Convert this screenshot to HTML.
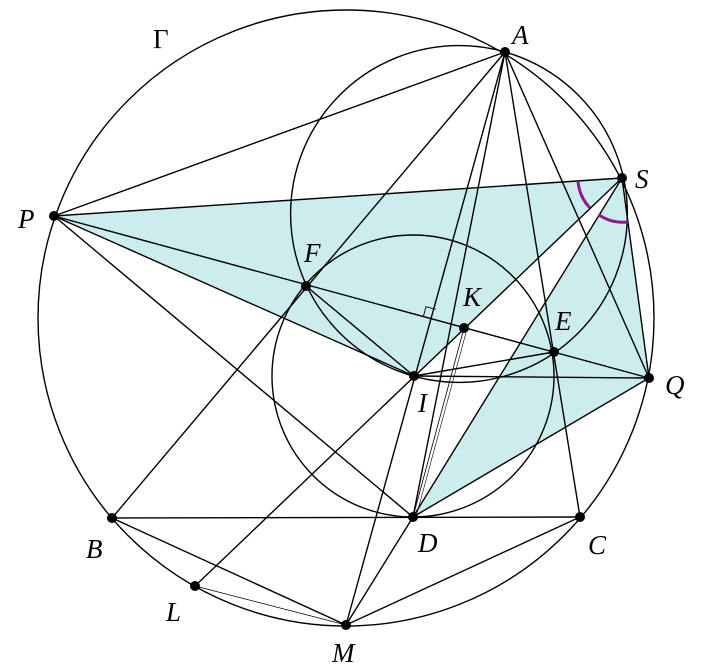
<!DOCTYPE html>
<html><head><style>html,body{margin:0;padding:0;background:#fff}svg{display:block}</style></head>
<body>
<svg width="706" height="669" viewBox="0 0 706 669" xmlns="http://www.w3.org/2000/svg">
<g fill="#cdeced" stroke="none">
<polygon points="54,216 622,178 414,376"/>
<polygon points="622,178 649,378 413,517"/>
</g>
<g fill="none" stroke="#000" stroke-width="1.4">
<circle cx="346" cy="318" r="308"/>
<circle cx="459" cy="214" r="168.4"/>
<circle cx="413" cy="376" r="141"/>
<line x1="54" y1="216" x2="505" y2="52"/>
<line x1="54" y1="216" x2="622" y2="178"/>
<line x1="54" y1="216" x2="649" y2="378"/>
<line x1="54" y1="216" x2="414" y2="376"/>
<line x1="54" y1="216" x2="413" y2="517"/>
<line x1="505" y1="52" x2="112" y2="518"/>
<line x1="505" y1="52" x2="346" y2="625"/>
<line x1="505" y1="52" x2="413" y2="517"/>
<line x1="505" y1="52" x2="580" y2="517"/>
<line x1="505" y1="52" x2="649" y2="378"/>
<line x1="622" y1="178" x2="195" y2="586"/>
<line x1="622" y1="178" x2="413" y2="517"/>
<line x1="622" y1="178" x2="649" y2="378"/>
<line x1="306" y1="286" x2="414" y2="376"/>
<line x1="414" y1="376" x2="554" y2="352"/>
<line x1="414" y1="376" x2="649" y2="378"/>
<line x1="413" y1="517" x2="649" y2="378"/>
<line x1="112" y1="518" x2="580" y2="517"/>
<line x1="112" y1="518" x2="346" y2="625"/>
<line x1="413" y1="517" x2="346" y2="625"/>
<line x1="580" y1="517" x2="346" y2="625"/>
<line x1="195" y1="586" x2="346" y2="625" stroke-width="0.8"/>
<line x1="464" y1="328" x2="413" y2="517" stroke-width="0.8"/>
<line x1="467" y1="329" x2="416" y2="517" stroke-width="0.6"/>
<polyline points="423.4,316.4 426,306.7 435.7,309.4" stroke-width="0.9"/>
</g>
<g fill="none" stroke="#8b1a8b" stroke-width="3">
<path d="M578,181 A44,44 0 0 0 590,208"/>
<path d="M599,215 A44,44 0 0 0 628,222"/>
</g>
<g fill="#000">
<circle cx="505" cy="52" r="5"/><circle cx="622" cy="178" r="5"/><circle cx="54" cy="216" r="5"/>
<circle cx="306" cy="286" r="5"/><circle cx="464" cy="328" r="5"/><circle cx="554" cy="352" r="5"/>
<circle cx="414" cy="376" r="5"/><circle cx="649" cy="378" r="5"/><circle cx="112" cy="518" r="5"/>
<circle cx="413" cy="517" r="5"/><circle cx="580" cy="517" r="5"/><circle cx="195" cy="586" r="5"/>
<circle cx="346" cy="625" r="5"/>
</g>
<g font-family="Liberation Serif, serif" font-style="italic" font-size="27" fill="#000">
<text x="512" y="44">A</text>
<text x="635" y="188">S</text>
<text x="18" y="228">P</text>
<text x="304" y="262">F</text>
<text x="463" y="306">K</text>
<text x="555" y="330">E</text>
<text x="418" y="412">I</text>
<text x="665" y="394">Q</text>
<text x="86" y="558">B</text>
<text x="418" y="552">D</text>
<text x="588" y="554">C</text>
<text x="166" y="621">L</text>
<text x="332" y="662">M</text>
<text x="153" y="48" font-style="normal">Γ</text>
</g>
</svg>
</body></html>
